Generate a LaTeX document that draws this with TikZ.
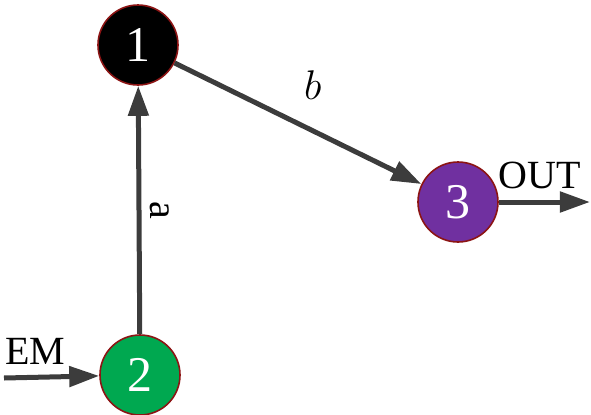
\documentclass[tikz,border=0pt]{standalone}
\usepackage{fontspec}
\setmainfont{Liberation Serif}
\usepackage{tikz}
\usetikzlibrary{positioning,calc}
\usetikzlibrary{arrows.meta}
\definecolor{StateRim}{RGB}{140,20,20}
\definecolor{StateGreen}{RGB}{0,168,80}
\definecolor{StatePurple}{RGB}{112,48,160}
\definecolor{FlowGray}{RGB}{60,60,60}
\tikzset{
  state/.style={circle,draw=StateRim,line width=0.8pt,minimum size=40pt,inner sep=0pt,
    text=white,font=\fontsize{25}{30}\selectfont},
  flow/.style={draw=FlowGray,line width=2.5pt,-{Triangle[length=15pt,width=10pt]}},
  tag/.style={font=\fontsize{20}{24}\selectfont,text=black}
}
\begin{document}
\begin{tikzpicture}[x=0.5pt,y=-0.5pt]
				\useasboundingbox (0,0) rectangle (591,414);
				
				\node[state,fill=black] (n1) at (138,45) {1};
				\node[state,fill=StateGreen] (n2) at (140,375) {2};
				\node[state,fill=StatePurple] (n3) at (458,202) {3};
				
				\coordinate (emin) at (4,378);
				\coordinate (outend) at (590,202);
				
				\draw[flow] (n2) -- (n1) node[tag,midway,right=1pt,rotate=-90,anchor=south] (la) {a};
				\draw[flow] (n1) -- (n3) node[tag,pos=0.56,above=11pt] (lb) {$b$};
				\draw[flow] (emin) -- (n2) node[tag,pos=0.33,above=2pt] (lem) {EM};
				\draw[flow] (n3) -- (outend) node[tag,pos=0.45,above=2pt] (lout) {OUT};
			\end{tikzpicture}
\end{document}
